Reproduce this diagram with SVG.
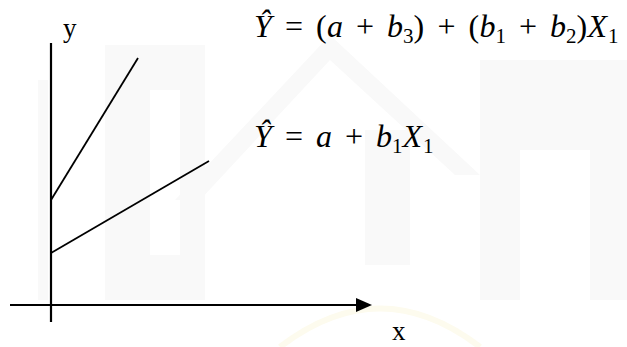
<svg xmlns="http://www.w3.org/2000/svg" width="627" height="347" viewBox="0 0 627 347">
<style>
.ax{stroke:#000;stroke-width:2.2;fill:none}
.ln{stroke:#000;stroke-width:1.8;fill:none}
.eq{font-family:"Liberation Serif",serif;font-size:32px;fill:#000}
.it{font-style:italic}
.sb{font-size:21px}
.lb{font-family:"Liberation Serif",serif;font-size:27px;fill:#000}
.wm{fill:#f9f9f9}
</style>
<rect width="627" height="347" fill="#fff"/>
<g id="watermark">
<polygon class="wm" points="38,80 48,80 48,300 38,300"/>
<polygon class="wm" points="105,45 205,45 205,300 105,300 105,45 150,90 150,255 180,255 180,90 150,90"/>
<polygon class="wm" points="175,200 330,35 480,175 455,175 330,60 200,200"/>
<polygon class="wm" points="365,130 410,130 410,265 365,265"/>
<polygon class="wm" points="480,60 627,60 627,300 590,300 590,150 520,150 520,300 480,300"/>
<path d="M280,347 Q380,270 480,347" fill="none" stroke="#fdfbee" stroke-width="6"/>
</g>
<g id="connectors">
<line class="ax" x1="51" y1="43" x2="51" y2="322"/>
<line class="ax" x1="10" y1="305" x2="358" y2="305"/>
<polygon points="356,298 372,305 356,312" fill="#000"/>
<line class="ln" x1="51" y1="200" x2="138" y2="58"/>
<line class="ln" x1="51" y1="253" x2="209" y2="161"/>
</g>
<g id="label-y"><text class="lb" x="63" y="37">y</text></g>
<g id="label-x"><text class="lb" x="392" y="340">x</text></g>
<g id="eq1">
<text class="eq" y="37"><tspan class="it" x="254">Ŷ</tspan><tspan x="285">=</tspan><tspan x="316">(</tspan><tspan class="it" x="327">a</tspan><tspan x="356">+</tspan><tspan class="it" x="387">b</tspan><tspan class="sb" x="403" dy="6">3</tspan><tspan x="413.5" dy="-6">)</tspan><tspan x="437.5">+</tspan><tspan x="468.5">(</tspan><tspan class="it" x="479.5">b</tspan><tspan class="sb" x="495.5" dy="6">1</tspan><tspan x="519" dy="-6">+</tspan><tspan class="it" x="550">b</tspan><tspan class="sb" x="566" dy="6">2</tspan><tspan x="576.5" dy="-6">)</tspan><tspan class="it" x="587.5">X</tspan><tspan class="sb" x="608" dy="6">1</tspan></text>
</g>
<g id="eq2">
<text class="eq" y="147"><tspan class="it" x="254">Ŷ</tspan><tspan x="285">=</tspan><tspan class="it" x="316">a</tspan><tspan x="345">+</tspan><tspan class="it" x="376">b</tspan><tspan class="sb" x="392" dy="6">1</tspan><tspan class="it" x="402.5" dy="-6">X</tspan><tspan class="sb" x="423" dy="6">1</tspan></text>
</g>
</svg>
